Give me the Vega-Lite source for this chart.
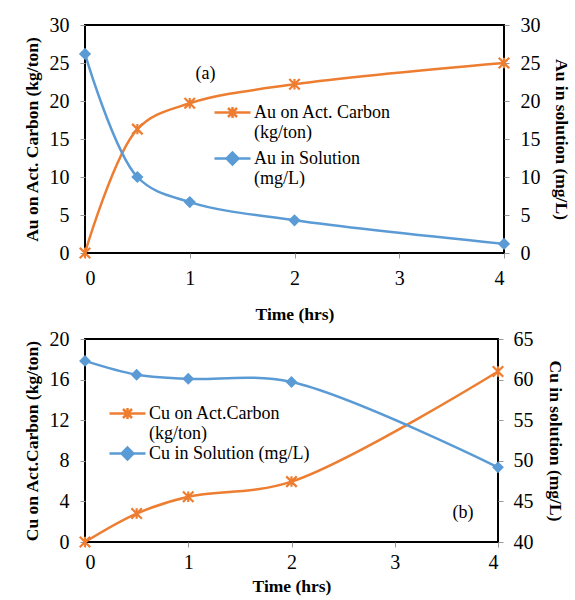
{
  "$schema": "https://vega.github.io/schema/vega-lite/v6.json",
  "padding": {"left": 22, "top": 14, "right": 0, "bottom": 0},
  "background": "white",
  "config": {
    "font": "Liberation Serif",
    "view": {"stroke": "black", "strokeWidth": 2},
    "axis": {"grid": false, "domain": false, "labelFontSize": 20, "labelColor": "black", "titleFontSize": 17.5, "titleFontWeight": "bold", "titleColor": "black", "tickColor": "#999999", "tickSize": 5, "labelPadding": 11, "labelFont": "Liberation Serif", "titleFont": "Liberation Serif"},
    "legend": {"labelFont": "Liberation Serif", "labelFontSize": 18, "labelColor": "black", "labelLimit": 400, "padding": 0, "symbolOpacity": 1, "symbolStrokeWidth": 2.5, "symbolSize": 1296, "orient": "none", "title": null, "labelOffset": 2}
  },
  "datasets": {
    "a": [
      {"t": 0, "s": "c", "v": 0}, {"t": 0.5, "s": "c", "v": 16.3}, {"t": 1, "s": "c", "v": 19.7}, {"t": 2, "s": "c", "v": 22.2}, {"t": 4, "s": "c", "v": 25.0},
      {"t": 0, "s": "s", "v": 26.2}, {"t": 0.5, "s": "s", "v": 10.0}, {"t": 1, "s": "s", "v": 6.7}, {"t": 2, "s": "s", "v": 4.3}, {"t": 4, "s": "s", "v": 1.2}
    ],
    "b": [
      {"t": 0, "s": "c", "v": 0}, {"t": 0.5, "s": "c", "v": 2.8}, {"t": 1, "s": "c", "v": 4.45}, {"t": 2, "s": "c", "v": 5.95}, {"t": 4, "s": "c", "v": 16.8},
      {"t": 0, "s": "s", "v": 62.3}, {"t": 0.5, "s": "s", "v": 60.6}, {"t": 1, "s": "s", "v": 60.1}, {"t": 2, "s": "s", "v": 59.7}, {"t": 4, "s": "s", "v": 49.2}
    ],
    "labA": [{"t": 1.15, "v": 23.6, "label": "(a)"}],
    "labB": [{"t": 3.66, "v": 2.85, "label": "(b)"}]
  },
  "spacing": 86,
  "bounds": "flush",
  "resolve": {"scale": {"fill": "independent", "stroke": "independent", "shape": "independent"}, "legend": {"fill": "independent", "stroke": "independent", "shape": "independent"}},
  "vconcat": [
    {
      "width": 419,
      "height": 228,
      "data": {"name": "a"},
      "encoding": {
        "x": {"field": "t", "type": "quantitative", "scale": {"domain": [0, 4], "nice": false}, "axis": {"values": [0, 1, 2, 3, 4], "title": "Time (hrs)", "labelPadding": 10, "titlePadding": 17}}
      },
      "layer": [
        {
          "encoding": {
            "y": {"field": "v", "type": "quantitative", "scale": {"domain": [0, 30], "nice": false}, "axis": {"values": [0, 5, 10, 15, 20, 25, 30], "title": "Au on Act. Carbon (kg/ton)", "titlePadding": 8}}
          },
          "layer": [
            {"transform": [{"filter": "datum.s == 'c'"}], "mark": {"type": "line", "color": "#ED7D31", "strokeWidth": 2.5, "interpolate": "catmull-rom"}},
            {"transform": [{"filter": "datum.s == 'c'"}], "mark": {"type": "point", "shape": "M-1,-1L1,1M-1,1L1,-1M0,-1L0,1", "size": 110, "filled": false, "color": "#ED7D31", "strokeWidth": 2.2, "opacity": 1}},
            {
              "transform": [{"filter": "datum.s == 'c'"}],
              "mark": {"type": "point", "opacity": 0, "clip": true},
              "encoding": {
                "shape": {"field": "s", "type": "nominal", "scale": {"domain": ["c"], "range": ["M-1,0L1,0M-0.25,-0.25L0.25,0.25M-0.25,0.25L0.25,-0.25M0,-0.3L0,0.3"]}, "legend": {"legendX": 128, "legendY": 68, "labelExpr": "['Au on Act. Carbon', '(kg/ton)']"}},
                "fill": {"field": "s", "type": "nominal", "scale": {"domain": ["c"], "range": ["#ED7D31"]}, "legend": {"legendX": 128, "legendY": 68, "labelExpr": "['Au on Act. Carbon', '(kg/ton)']"}},
                "stroke": {"field": "s", "type": "nominal", "scale": {"domain": ["c"], "range": ["#ED7D31"]}, "legend": {"legendX": 128, "legendY": 68, "labelExpr": "['Au on Act. Carbon', '(kg/ton)']"}}
              }
            },
            {
              "transform": [{"filter": "datum.s == 's'"}],
              "mark": {"type": "point", "opacity": 0, "clip": true},
              "encoding": {
                "shape": {"field": "s", "type": "nominal", "scale": {"domain": ["s"], "range": ["M-1,0L1,0M0,-0.33L0.33,0L0,0.33L-0.33,0Z"]}, "legend": {"legendX": 128, "legendY": 114, "labelExpr": "['Au in Solution', '(mg/L)']"}},
                "fill": {"field": "s", "type": "nominal", "scale": {"domain": ["s"], "range": ["#5B9BD5"]}, "legend": {"legendX": 128, "legendY": 114, "labelExpr": "['Au in Solution', '(mg/L)']"}},
                "stroke": {"field": "s", "type": "nominal", "scale": {"domain": ["s"], "range": ["#5B9BD5"]}, "legend": {"legendX": 128, "legendY": 114, "labelExpr": "['Au in Solution', '(mg/L)']"}}
              }
            },
            {"data": {"name": "labA"}, "mark": {"type": "text", "fontSize": 18, "font": "Liberation Serif", "color": "black"}, "encoding": {"text": {"field": "label"}}}
          ],
          "resolve": {"scale": {"fill": "independent", "stroke": "independent", "shape": "independent"}, "legend": {"fill": "independent", "stroke": "independent", "shape": "independent"}}
        },
        {
          "transform": [{"filter": "datum.s == 's'"}],
          "encoding": {
            "y": {"field": "v", "type": "quantitative", "scale": {"domain": [0, 30], "nice": false}, "axis": {"orient": "right", "values": [0, 5, 10, 15, 20, 25, 30], "title": "Au in solution (mg/L)", "titlePadding": 11, "labelPadding": 11}}
          },
          "layer": [
            {"mark": {"type": "line", "color": "#5B9BD5", "strokeWidth": 2.5, "interpolate": "catmull-rom"}},
            {"mark": {"type": "point", "shape": "diamond", "size": 150, "filled": true, "color": "#5B9BD5", "opacity": 1}}
          ]
        }
      ],
      "resolve": {"scale": {"y": "independent", "fill": "independent", "stroke": "independent", "shape": "independent"}, "legend": {"fill": "independent", "stroke": "independent", "shape": "independent"}}
    },
    {
      "width": 413,
      "height": 203,
      "data": {"name": "b"},
      "encoding": {
        "x": {"field": "t", "type": "quantitative", "scale": {"domain": [0, 4], "nice": false}, "axis": {"values": [0, 1, 2, 3, 4], "title": "Time (hrs)", "labelPadding": 5, "titlePadding": 5}}
      },
      "layer": [
        {
          "encoding": {
            "y": {"field": "v", "type": "quantitative", "scale": {"domain": [0, 20], "nice": false}, "axis": {"values": [0, 4, 8, 12, 16, 20], "title": "Cu on Act.Carbon (kg/ton)", "titlePadding": 8}}
          },
          "layer": [
            {"transform": [{"filter": "datum.s == 'c'"}], "mark": {"type": "line", "color": "#ED7D31", "strokeWidth": 2.5, "interpolate": "catmull-rom"}},
            {"transform": [{"filter": "datum.s == 'c'"}], "mark": {"type": "point", "shape": "M-1,-1L1,1M-1,1L1,-1M0,-1L0,1", "size": 110, "filled": false, "color": "#ED7D31", "strokeWidth": 2.2, "opacity": 1}},
            {
              "transform": [{"filter": "datum.s == 'c'"}],
              "mark": {"type": "point", "opacity": 0, "clip": true},
              "encoding": {
                "shape": {"field": "s", "type": "nominal", "scale": {"domain": ["c"], "range": ["M-1,0L1,0M-0.25,-0.25L0.25,0.25M-0.25,0.25L0.25,-0.25M0,-0.3L0,0.3"]}, "legend": {"legendX": 23, "legendY": 55, "labelExpr": "['Cu on Act.Carbon', '(kg/ton)']"}},
                "fill": {"field": "s", "type": "nominal", "scale": {"domain": ["c"], "range": ["#ED7D31"]}, "legend": {"legendX": 23, "legendY": 55, "labelExpr": "['Cu on Act.Carbon', '(kg/ton)']"}},
                "stroke": {"field": "s", "type": "nominal", "scale": {"domain": ["c"], "range": ["#ED7D31"]}, "legend": {"legendX": 23, "legendY": 55, "labelExpr": "['Cu on Act.Carbon', '(kg/ton)']"}}
              }
            },
            {
              "transform": [{"filter": "datum.s == 's'"}],
              "mark": {"type": "point", "opacity": 0, "clip": true},
              "encoding": {
                "shape": {"field": "s", "type": "nominal", "scale": {"domain": ["s"], "range": ["M-1,0L1,0M0,-0.33L0.33,0L0,0.33L-0.33,0Z"]}, "legend": {"legendX": 23, "legendY": 95, "labelExpr": "'Cu in Solution (mg/L)'"}},
                "fill": {"field": "s", "type": "nominal", "scale": {"domain": ["s"], "range": ["#5B9BD5"]}, "legend": {"legendX": 23, "legendY": 95, "labelExpr": "'Cu in Solution (mg/L)'"}},
                "stroke": {"field": "s", "type": "nominal", "scale": {"domain": ["s"], "range": ["#5B9BD5"]}, "legend": {"legendX": 23, "legendY": 95, "labelExpr": "'Cu in Solution (mg/L)'"}}
              }
            },
            {"data": {"name": "labB"}, "mark": {"type": "text", "fontSize": 18, "font": "Liberation Serif", "color": "black"}, "encoding": {"text": {"field": "label"}}}
          ],
          "resolve": {"scale": {"fill": "independent", "stroke": "independent", "shape": "independent"}, "legend": {"fill": "independent", "stroke": "independent", "shape": "independent"}}
        },
        {
          "transform": [{"filter": "datum.s == 's'"}],
          "encoding": {
            "y": {"field": "v", "type": "quantitative", "scale": {"domain": [40, 65], "nice": false}, "axis": {"orient": "right", "values": [40, 45, 50, 55, 60, 65], "title": "Cu in solution (mg/L)", "titlePadding": 12, "labelPadding": 10}}
          },
          "layer": [
            {"mark": {"type": "line", "color": "#5B9BD5", "strokeWidth": 2.5, "interpolate": "catmull-rom"}},
            {"mark": {"type": "point", "shape": "diamond", "size": 140, "filled": true, "color": "#5B9BD5", "opacity": 1}}
          ]
        }
      ],
      "resolve": {"scale": {"y": "independent", "fill": "independent", "stroke": "independent", "shape": "independent"}, "legend": {"fill": "independent", "stroke": "independent", "shape": "independent"}}
    }
  ]
}
